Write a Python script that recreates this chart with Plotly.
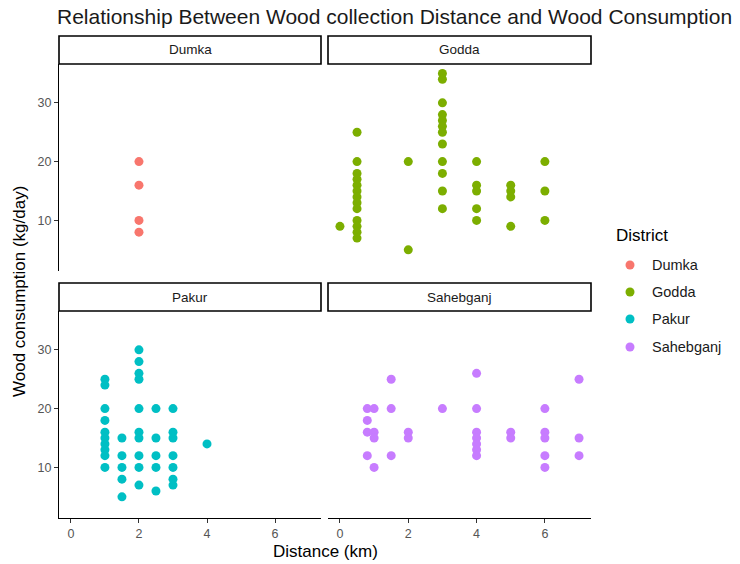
import plotly.graph_objects as go

# ---- data: distance to wood collection site (km) vs daily wood use (kg/day)
districts = ["Dumka", "Godda", "Pakur", "Sahebganj"]
colors = ["#F8766D", "#7CAE00", "#00BFC4", "#C77CFF"]

dumka_dist = [2, 2, 2, 2]
dumka_wood = [20, 16, 10, 8]

godda_dist = [0,
              0.5, 0.5, 0.5, 0.5, 0.5, 0.5, 0.5, 0.5, 0.5, 0.5, 0.5, 0.5, 0.5,
              2, 2,
              3, 3, 3, 3, 3, 3, 3, 3, 3, 3, 3, 3,
              4, 4, 4, 4, 4,
              5, 5, 5, 5,
              6, 6, 6]
godda_wood = [9,
              25, 20, 18, 17, 16, 15, 14, 13, 12, 10, 9, 8, 7,
              20, 5,
              35, 34, 30, 28, 27, 26, 25, 23, 20, 18, 15, 12,
              20, 16, 15, 12, 10,
              16, 15, 14, 9,
              20, 15, 10]

pakur_dist = [1, 1, 1, 1, 1, 1, 1, 1, 1, 1,
              1.5, 1.5, 1.5, 1.5, 1.5,
              2, 2, 2, 2, 2, 2, 2, 2, 2, 2,
              2.5, 2.5, 2.5, 2.5, 2.5,
              3, 3, 3, 3, 3, 3, 3,
              4]
pakur_wood = [25, 24, 20, 18, 16, 15, 14, 13, 12, 10,
              15, 12, 10, 8, 5,
              30, 28, 26, 25, 20, 16, 15, 12, 10, 7,
              20, 15, 12, 10, 6,
              20, 16, 15, 12, 10, 8, 7,
              14]

saheb_dist = [0.8, 0.8, 0.8, 0.8,
              1, 1, 1, 1,
              1.5, 1.5, 1.5,
              2, 2,
              3,
              4, 4, 4, 4, 4, 4, 4,
              5, 5,
              6, 6, 6, 6, 6,
              7, 7, 7]
saheb_wood = [20, 18, 16, 12,
              20, 16, 15, 10,
              25, 20, 12,
              16, 15,
              20,
              26, 20, 16, 15, 14, 13, 12,
              16, 15,
              20, 16, 15, 12, 10,
              25, 15, 12]

series_x = [dumka_dist, godda_dist, pakur_dist, saheb_dist]
series_y = [dumka_wood, godda_wood, pakur_wood, saheb_wood]

x_ticks = [0, 2, 4, 6]
y_ticks = [10, 20, 30]
x_range = [-0.35, 7.35]
y_range = [1.4, 36.6]

# ---- layout geometry (pixels of the 740x564 canvas)
W, H = 740, 564
FONT = "Liberation Sans, Arial, sans-serif"


def fx(px):
    return px / W


def fy(px):
    return 1 - px / H


# panel boxes: (left, right, top, bottom)
panels = [(59, 321, 64, 271), (328, 591, 64, 271),
          (59, 321, 311, 518), (328, 591, 311, 518)]
strip_h = 28

fig = go.Figure()

for i, name in enumerate(districts):
    sfx = "" if i == 0 else str(i + 1)
    fig.add_trace(go.Scatter(
        x=series_x[i], y=series_y[i], mode="markers", name=name,
        showlegend=False,
        marker=dict(color=colors[i], size=9, line=dict(width=0)),
        xaxis="x" + sfx, yaxis="y" + sfx,
        hovertemplate="Distance: %{x} km<br>Wood: %{y} kg/day<extra>" + name + "</extra>",
    ))

shapes = []
annotations = []
tick_font = dict(family=FONT, size=12.5, color="#555555")
for i, (l, r, t, b) in enumerate(panels):
    sfx = "" if i == 0 else str(i + 1)
    left_col = i in (0, 2)
    bottom_row = i in (2, 3)
    fig.layout["xaxis" + sfx] = dict(
        domain=[fx(l), fx(r)], range=x_range, anchor="y" + sfx,
        tickvals=x_ticks, showgrid=False, zeroline=False,
        showline=bottom_row, linecolor="black", linewidth=1,
        ticks="outside" if bottom_row else "", ticklen=4,
        tickcolor="#333333", showticklabels=bottom_row,
        tickfont=tick_font, fixedrange=True,
    )
    fig.layout["yaxis" + sfx] = dict(
        domain=[fy(b), fy(t)], range=y_range, anchor="x" + sfx,
        tickvals=y_ticks, showgrid=False, zeroline=False,
        showline=left_col, linecolor="black", linewidth=1,
        ticks="outside" if left_col else "", ticklen=4,
        tickcolor="#333333", showticklabels=left_col,
        tickfont=tick_font, fixedrange=True,
    )
    # facet strip
    st = t - strip_h
    shapes.append(dict(type="rect", xref="paper", yref="paper",
                       x0=fx(l), x1=fx(r), y0=fy(t), y1=fy(st),
                       line=dict(color="black", width=1.6),
                       fillcolor="white", layer="above"))
    annotations.append(dict(text=districts[i], xref="paper", yref="paper",
                            x=fx((l + r) / 2), y=fy((t + st) / 2),
                            showarrow=False, xanchor="center", yanchor="middle",
                            font=dict(family=FONT, size=13.5, color="#1A1A1A")))

# axis titles
annotations.append(dict(text="Distance (km)", xref="paper", yref="paper",
                        x=fx(325), y=fy(551), showarrow=False,
                        xanchor="center", yanchor="middle",
                        font=dict(family=FONT, size=17, color="black")))
annotations.append(dict(text="Wood consumption (kg/day)", xref="paper", yref="paper",
                        x=fx(19), y=fy(292), showarrow=False, textangle=-90,
                        xanchor="center", yanchor="middle",
                        font=dict(family=FONT, size=17, color="black")))

# legend: colour key for District
annotations.append(dict(text="District", xref="paper", yref="paper",
                        x=fx(614), y=fy(235), showarrow=False,
                        xanchor="left", yanchor="middle",
                        font=dict(family=FONT, size=17, color="black")))
key_y = [265, 292, 319, 347]
for i, name in enumerate(districts):
    cy = key_y[i]
    shapes.append(dict(type="circle", xref="paper", yref="paper",
                       x0=fx(630 - 4.5), x1=fx(630 + 4.5),
                       y0=fy(cy + 4.5), y1=fy(cy - 4.5),
                       fillcolor=colors[i], line=dict(width=0)))
    annotations.append(dict(text=name, xref="paper", yref="paper",
                            x=fx(650), y=fy(cy), showarrow=False,
                            xanchor="left", yanchor="middle",
                            font=dict(family=FONT, size=14.5, color="#1A1A1A")))

fig.update_layout(
    width=W, height=H,
    margin=dict(l=0, r=0, t=0, b=0),
    paper_bgcolor="white", plot_bgcolor="white",
    title=dict(text="Relationship Between Wood collection Distance and Wood Consumption",
               x=fx(57), xanchor="left", y=fy(17), yanchor="middle",
               font=dict(family=FONT, size=21, color="#1A1A1A")),
    shapes=shapes, annotations=annotations,
    showlegend=False,
)

fig.write_html("out.html")
